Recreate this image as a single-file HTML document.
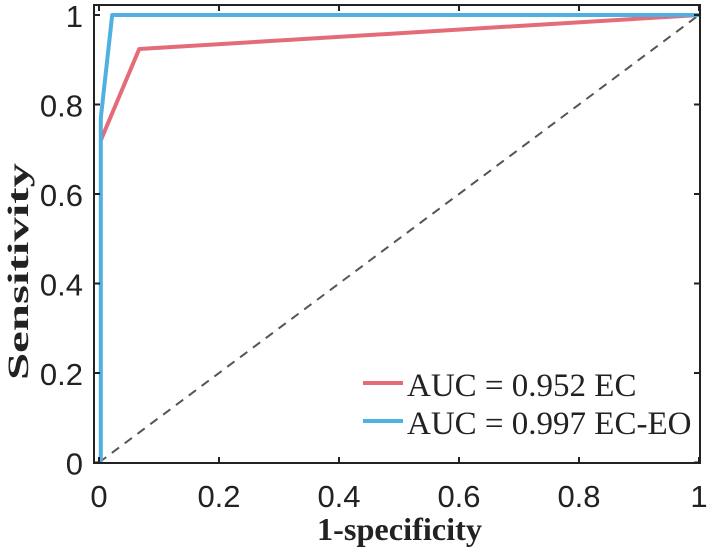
<!DOCTYPE html>
<html><head><meta charset="utf-8"><style>
body{margin:0;background:#fff;}
svg{display:block;}
.tk{font-family:"Liberation Sans",sans-serif;font-size:31px;fill:#222;}
.ti{font-family:"Liberation Serif",serif;font-size:32px;font-weight:bold;fill:#222;}
.lg{font-family:"Liberation Serif",serif;font-size:33px;fill:#222;}
</style></head><body>
<svg id="chart" width="709" height="554"></svg>
<script>
const xTicks=[0,0.2,0.4,0.6,0.8,1];
const yTicks=[0,0.2,0.4,0.6,0.8,1];
const xTickLabels=["0","0.2","0.4","0.6","0.8","1"];
const yTickLabels=["0","0.2","0.4","0.6","0.8","1"];
const seriesNames=["AUC = 0.952 EC","AUC = 0.997 EC-EO"];
const ecFpr=[0.003,0.067,1];
const ecTpr=[0.72,0.924,1];
const eoFpr=[0.003,0.003,0.022,1];
const eoTpr=[0,0.77,1,1];
const colors=["#e46b78","#4fb0e2"];
const NS="http://www.w3.org/2000/svg";
const svg=document.getElementById('chart');
const X=v=>99+v*600, Y=v=>462.5-v*447.5;
function mk(t,a,parent){const e=document.createElementNS(NS,t);for(const k in a)e.setAttribute(k,a[k]);(parent||svg).appendChild(e);return e;}
const d=mk('line',{x1:X(0),y1:Y(0),x2:X(1),y2:Y(1),stroke:'#555','stroke-width':2,'stroke-dasharray':'9,7'});


function poly(xs,ys,c,name){const p=mk('polyline',{points:xs.map((x,i)=>X(x)+','+Y(ys[i])).join(' '),fill:'none',stroke:c,'stroke-width':4,'stroke-linejoin':'round'});

}
poly(ecFpr,ecTpr,colors[0],'ec-roc-curve');
poly(eoFpr,eoTpr,colors[1],'ec-eo-roc-curve');
const b=mk('rect',{x:94,y:5,width:606,height:458,fill:'none',stroke:'#222','stroke-width':2});


xTicks.forEach((v,i)=>{
mk('line',{x1:X(v),y1:463,x2:X(v),y2:457,stroke:'#222','stroke-width':2});
mk('line',{x1:X(v),y1:5,x2:X(v),y2:11,stroke:'#222','stroke-width':2});
const t=mk('text',{x:X(v),y:507,'text-anchor':'middle',class:'tk'});t.textContent=xTickLabels[i];


});
yTicks.forEach((v,i)=>{
mk('line',{x1:94,y1:Y(v),x2:100,y2:Y(v),stroke:'#222','stroke-width':2});
mk('line',{x1:700,y1:Y(v),x2:694,y2:Y(v),stroke:'#222','stroke-width':2});
const t=mk('text',{x:83,y:Y(v)+12,'text-anchor':'end',class:'tk'});t.textContent=yTickLabels[i];


});
const xt=mk('text',{x:317,y:540,class:'ti',textLength:165,lengthAdjust:'spacingAndGlyphs'});xt.textContent='1-specificity';


const yt=mk('text',{x:0,y:0,class:'ti',style:'font-size:30px',textLength:217,lengthAdjust:'spacingAndGlyphs',transform:'translate(28,380) rotate(-90)'});yt.textContent='Sensitivity';


seriesNames.forEach((n,i)=>{
const yy=383+i*38;
const g=mk('g',{});


mk('line',{x1:363,y1:yy,x2:403,y2:yy,stroke:colors[i],'stroke-width':4},g);
const t=mk('text',{x:407,y:yy+13,class:'lg'},g);t.textContent=n;
});
</script>
</body></html>
